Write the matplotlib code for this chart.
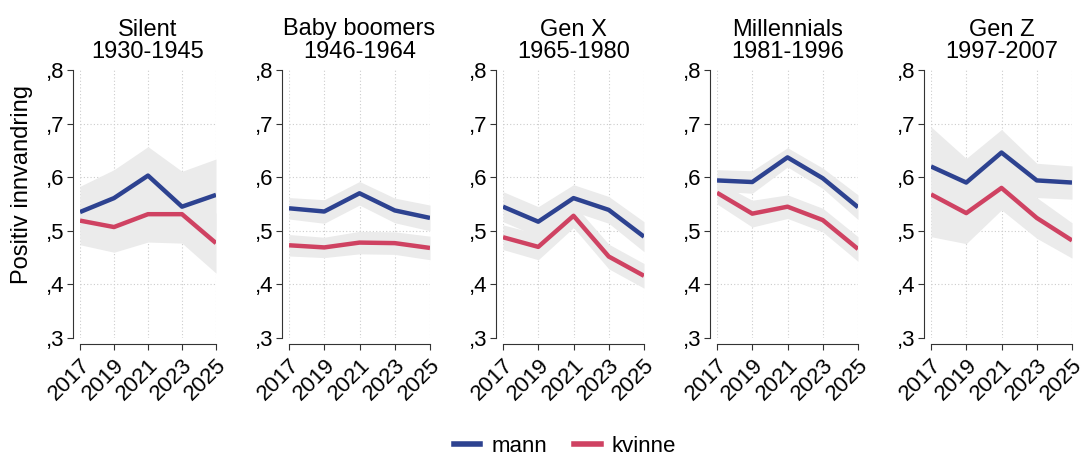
import matplotlib
matplotlib.use("Agg")
import matplotlib.pyplot as plt
from matplotlib.lines import Line2D

plt.rcParams['font.family'] = ['Liberation Sans', 'DejaVu Sans']

# data
years = [2017, 2019, 2021, 2023, 2025]
titles = ["Silent\n1930-1945", "Baby boomers\n1946-1964", "Gen X\n1965-1980",
          "Millennials\n1981-1996", "Gen Z\n1997-2007"]

mann = [
    [0.535, 0.561, 0.603, 0.545, 0.567],
    [0.542, 0.536, 0.570, 0.538, 0.524],
    [0.545, 0.517, 0.561, 0.539, 0.489],
    [0.594, 0.591, 0.637, 0.598, 0.544],
    [0.620, 0.590, 0.646, 0.594, 0.590],
]
mann_ci = [  # half widths of the confidence band
    [0.048, 0.053, 0.054, 0.066, 0.067],
    [0.020, 0.022, 0.022, 0.023, 0.024],
    [0.028, 0.028, 0.025, 0.025, 0.028],
    [0.020, 0.021, 0.018, 0.019, 0.023],
    [0.074, 0.045, 0.043, 0.032, 0.031],
]
kvinne = [
    [0.519, 0.507, 0.531, 0.531, 0.477],
    [0.473, 0.469, 0.478, 0.477, 0.468],
    [0.488, 0.470, 0.528, 0.452, 0.416],
    [0.571, 0.532, 0.545, 0.520, 0.466],
    [0.568, 0.533, 0.580, 0.524, 0.482],
]
kvinne_ci = [
    [0.045, 0.047, 0.052, 0.054, 0.056],
    [0.020, 0.019, 0.021, 0.021, 0.022],
    [0.023, 0.024, 0.022, 0.023, 0.023],
    [0.021, 0.025, 0.022, 0.022, 0.023],
    [0.079, 0.057, 0.041, 0.038, 0.033],
]
yticks = [0.3, 0.4, 0.5, 0.6, 0.7, 0.8]

BLUE = '#2d4290'
RED = '#cf4262'
BAND = '#ebebeb'

W, H = 1083, 454
fig = plt.figure(figsize=(W / 100, H / 100), dpi=100)

# panel data areas in pixels (left, right)
panel_x = [(80, 216), (289, 430), (503, 644), (717, 858), (931, 1072)]
top_px, bot_px = 70, 338

for i, (x0, x1) in enumerate(panel_x):
    ax = fig.add_axes([x0 / W, (H - bot_px) / H, (x1 - x0) / W, (bot_px - top_px) / H])

    # spines first: set_position resets the tick label styling
    for s in ['top', 'right']:
        ax.spines[s].set_visible(False)
    ax.spines['left'].set_position(('outward', 5))
    ax.spines['bottom'].set_position(('outward', 4.3))
    ax.spines['left'].set_color('#333333')
    ax.spines['bottom'].set_color('#333333')

    ax.set_xlim(2017, 2025)
    ax.set_ylim(0.3, 0.8)
    ax.spines['left'].set_bounds(0.3, 0.8)
    ax.spines['bottom'].set_bounds(2017, 2025)

    m, mc = mann[i], mann_ci[i]
    k, kc = kvinne[i], kvinne_ci[i]
    ax.fill_between(years, [a - b for a, b in zip(m, mc)], [a + b for a, b in zip(m, mc)],
                    color=BAND, lw=0, zorder=1)
    ax.fill_between(years, [a - b for a, b in zip(k, kc)], [a + b for a, b in zip(k, kc)],
                    color=BAND, lw=0, zorder=1)
    ax.plot(years, m, color=BLUE, lw=3.2, zorder=3, solid_capstyle='butt')
    ax.plot(years, k, color=RED, lw=3.2, zorder=3, solid_capstyle='butt')

    ax.tick_params(axis='both', length=4, width=0.8, color='#333333', pad=2)
    ax.tick_params(axis='x', pad=4)
    ax.set_xticks(years)
    ax.set_xticklabels([str(y) for y in years], rotation=45, ha='right',
                       rotation_mode='anchor', fontsize=16)
    ax.set_yticks(yticks)
    ax.set_yticklabels([",%d" % round(v * 10) for v in yticks], fontsize=16)

    ax.grid(True, color='#cccccc', linestyle=(0, (1, 2)), linewidth=0.8, zorder=0)
    ygl = ax.get_ygridlines()
    ygl[0].set_visible(False)
    ygl[-1].set_visible(False)
    ax.set_axisbelow(True)

    ax.set_title(titles[i], fontsize=17, pad=9, linespacing=1.0)

fig.text(22 / W, (H - 184) / H, "Positiv innvandring", rotation=90,
         ha='center', va='center', fontsize=17)

handles = [Line2D([], [], color=BLUE, lw=4), Line2D([], [], color=RED, lw=4)]
fig.legend(handles, ["mann", "kvinne"], loc='center', bbox_to_anchor=(565 / W, 8 / H),
           ncol=2, frameon=False, fontsize=16, handlelength=1.2, columnspacing=1.2,
           handletextpad=0.5)

fig.savefig("out.png", dpi=100)
